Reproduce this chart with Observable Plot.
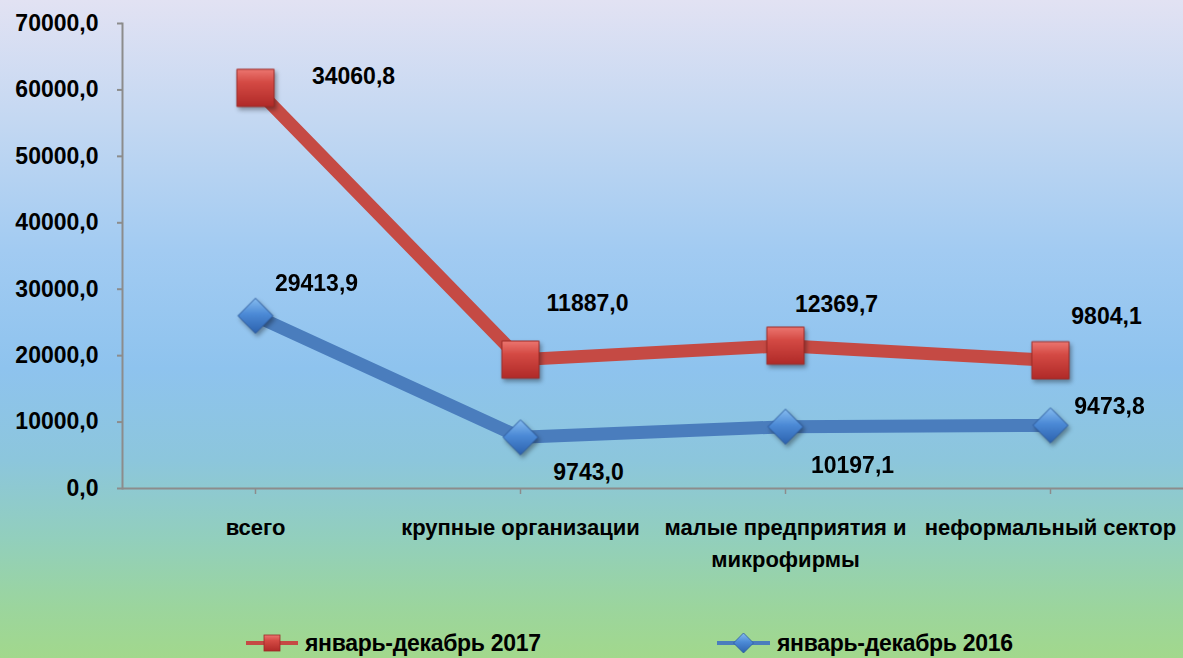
<!DOCTYPE html>
<html>
<head>
<meta charset="utf-8">
<script src="https://cdn.jsdelivr.net/npm/d3@7"></script>
<script src="https://cdn.jsdelivr.net/npm/@observablehq/plot@0.6"></script>
<style>
  html, body { margin: 0; padding: 0; }
  body {
    width: 1183px; height: 658px; overflow: hidden; position: relative;
    background: linear-gradient(to bottom, #e2e2f3 0%, #c4d8f2 18%, #a2cbf2 38%, #8ec3ee 56%, #8cc6dc 70%, #92cfbc 82%, #9bd59e 92%, #a2d88c 100%);
    font-family: "Liberation Sans", Arial, sans-serif; font-weight: bold; color: #000;
  }
  #chart svg { display: block; overflow: visible; background: transparent; }
  #chart g[aria-label="dot"] { filter: drop-shadow(2px 3px 2px rgba(0,0,0,0.35)); }
  .item { position: absolute; top: 629px; height: 28px; display: flex; align-items: center; }
  .item span { display: inline-block; font-size: 23px; white-space: nowrap; margin-left: 7px; letter-spacing: -0.3px; }
</style>
</head>
<body>
<svg width="0" height="0" style="position:absolute">
  <defs>
    <linearGradient id="gRed" x1="0" y1="0" x2="0" y2="1">
      <stop offset="0%" stop-color="#ec7670"/>
      <stop offset="35%" stop-color="#d44a44"/>
      <stop offset="100%" stop-color="#b02a28"/>
    </linearGradient>
    <linearGradient id="gBlue" x1="0" y1="0" x2="0" y2="1">
      <stop offset="0%" stop-color="#86bcf0"/>
      <stop offset="45%" stop-color="#4c8ad6"/>
      <stop offset="100%" stop-color="#2c62ae"/>
    </linearGradient>
  </defs>
</svg>
<div id="chart"></div>
<div class="item" style="left:246px">
  <svg width="52" height="28"><line x1="0" x2="52" y1="14" y2="14" stroke="#c54a44" stroke-width="4"/><rect x="18" y="6" width="16" height="16" fill="url(#gRed)" stroke="#9c2a26" stroke-width="0.8"/></svg>
  <span>январь-декабрь 2017</span>
</div>
<div class="item" style="left:717px">
  <svg width="53" height="28"><line x1="0" x2="53" y1="14" y2="14" stroke="#4a7dbd" stroke-width="4"/><path d="M26.5,4 L36.5,14 L26.5,24 L16.5,14 Z" fill="url(#gBlue)" stroke="#2c5a9c" stroke-width="0.8"/></svg>
  <span>январь-декабрь 2016</span>
</div>
<script>
const categories = ["всего", "крупные организации", "малые предприятия и\nмикрофирмы", "неформальный сектор"];
const values2017 = [60300, 19400, 21500, 19300];
const values2016 = [26000, 7700, 9300, 9500];
const labels2017 = ["34060,8", "11887,0", "12369,7", "9804,1"];
const labels2016 = ["29413,9", "9743,0", "10197,1", "9473,8"];
const yTicks = [0, 10000, 20000, 30000, 40000, 50000, 60000, 70000];

// label placement (layout offsets, px)
const labelDx2017 = [98, 67, 51, 56];
const labelDy2017 = [-11, -56, -41, -44];
const labelDx2016 = [61, 68, 67, 59];
const labelDy2016 = [-32, 35, 39, -19];

const data = categories.map((c, i) => ({
  category: c, v2017: values2017[i], v2016: values2016[i], l2017: labels2017[i], l2016: labels2016[i]
}));

const FS = 23;
const FONT = '"Liberation Sans", Arial, sans-serif';
const labelMarks = data.flatMap((d, i) => [
  Plot.text([d], {x: "category", y: "v2017", text: "l2017", dx: labelDx2017[i], dy: labelDy2017[i], fontSize: FS, fontWeight: "bold", fill: "#000"}),
  Plot.text([d], {x: "category", y: "v2016", text: "l2016", dx: labelDx2016[i], dy: labelDy2016[i], fontSize: FS, fontWeight: "bold", fill: "#000"})
]);

const chart = Plot.plot({
  width: 1183,
  height: 600,
  marginLeft: 122,
  marginRight: 0,
  marginTop: 23,
  marginBottom: 112,
  style: {fontFamily: FONT, fontWeight: "bold", color: "#000", background: "transparent", overflow: "visible"},
  x: {type: "point", domain: categories, padding: 0.5, label: null},
  y: {domain: [0, 70000], label: null},
  marks: [
    Plot.frame({anchor: "left", stroke: "#8c8c8c", strokeWidth: 2}),
    Plot.ruleY([0], {stroke: "#8c8c8c", strokeWidth: 2}),
    Plot.axisY({ticks: yTicks, tickFormat: d => d.toFixed(1).replace(".", ","), tickSize: 5, tickPadding: 19, stroke: "#8c8c8c", strokeWidth: 2, fontSize: FS, fill: "#000", label: null}),
    Plot.axisX({tickSize: 6, tickPadding: 18, stroke: "#8c8c8c", strokeWidth: 1.5, fontSize: 22, fill: "#000", lineHeight: 1.45, label: null}),
    Plot.line(data, {x: "category", y: "v2017", stroke: "#c54a44", strokeWidth: 13, strokeLinejoin: "round"}),
    Plot.line(data, {x: "category", y: "v2016", stroke: "#4a7dbd", strokeWidth: 13, strokeLinejoin: "round"}),
    Plot.dot(data, {x: "category", y: "v2017", symbol: "square", r: 21, fill: "url(#gRed)", stroke: "#9c2a26", strokeWidth: 1}),
    Plot.dot(data, {x: "category", y: "v2016", symbol: "diamond2", r: 15.8, fill: "url(#gBlue)", stroke: "#2c5a9c", strokeWidth: 1}),
    ...labelMarks
  ]
});

document.getElementById("chart").appendChild(chart);
</script>
</body>
</html>
